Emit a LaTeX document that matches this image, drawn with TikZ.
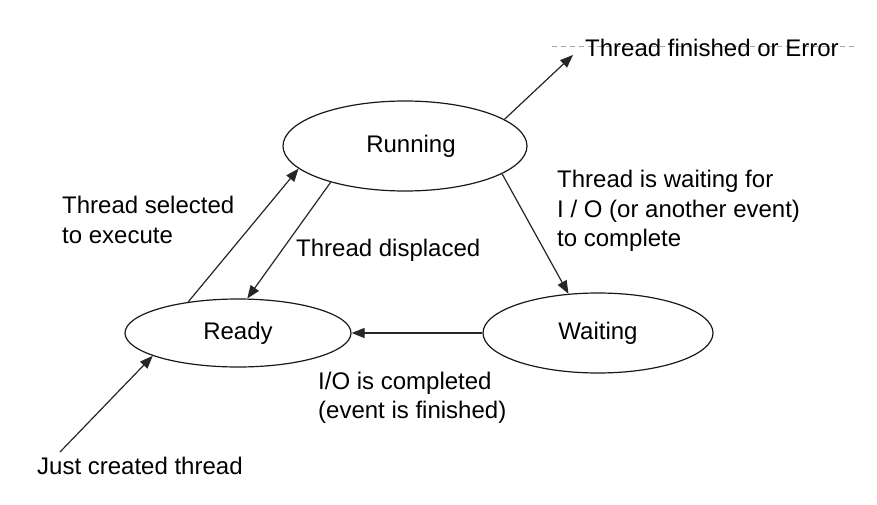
\documentclass[tikz,border=0pt]{standalone}
\usepackage{fontspec}
\setmainfont{Liberation Sans}
\usetikzlibrary{shapes.geometric,arrows.meta}
\begin{document}
\begin{tikzpicture}[x=1pt,y=-1pt,
  state/.style={ellipse,draw=black!90,line width=1.2pt,inner sep=0pt,
    font=\fontsize{24}{29}\selectfont},
  lbl/.style={anchor=west,align=left,inner sep=0pt,
    font=\fontsize{24}{29.5}\selectfont},
  conn/.style={draw=black!85,line width=1.2pt,-{Triangle[length=13pt,width=10pt]}}]
\useasboundingbox (0,0) rectangle (877,505);
\fill[white] (0,0) rectangle (877,505);
% states
\node[state,minimum width=244pt,minimum height=90pt] (run) at (405,146) {\hspace*{12pt}Running};
\node[state,minimum width=226pt,minimum height=68pt] (ready) at (238,333) {Ready};
\node[state,minimum width=230pt,minimum height=80pt] (wait) at (598,333) {Waiting};
% free ends
\coordinate (fin) at (573,55);
\coordinate (new) at (60,452);
\coordinate (dl) at (552,46);
\coordinate (dr) at (855,46);
% faint dashed line behind the top label
\draw[black!35,line width=0.8pt,dash pattern=on 5pt off 4pt] (dl) -- (dr);
% connectors
\draw[conn] (ready.148.7) -- (run.192.9);
\draw[conn] (run.206.9) -- (ready.75.2);
\draw[conn] (run.344.7) -- (wait.127.8);
\draw[conn] (wait.180) -- (ready.0);
\draw[conn] (new) -- (ready.195.6);
\draw[conn] (run.15.9) -- (fin);
% labels
\node[lbl] (tfin) at (585,48) {Thread finished or Error};
\node[lbl] (tsel) at (62,220) {Thread selected\\to execute};
\node[lbl] (tdis) at (296,250) {Thread displaced};
\node[lbl] (twai) at (557,211) {Thread is waiting for\\I / O (or another event)\\to complete};
\node[lbl] (tio) at (318,398) {I/O is completed\\(event is finished)};
\node[lbl] (tnew) at (37,466) {Just created thread};
\end{tikzpicture}
\end{document}
